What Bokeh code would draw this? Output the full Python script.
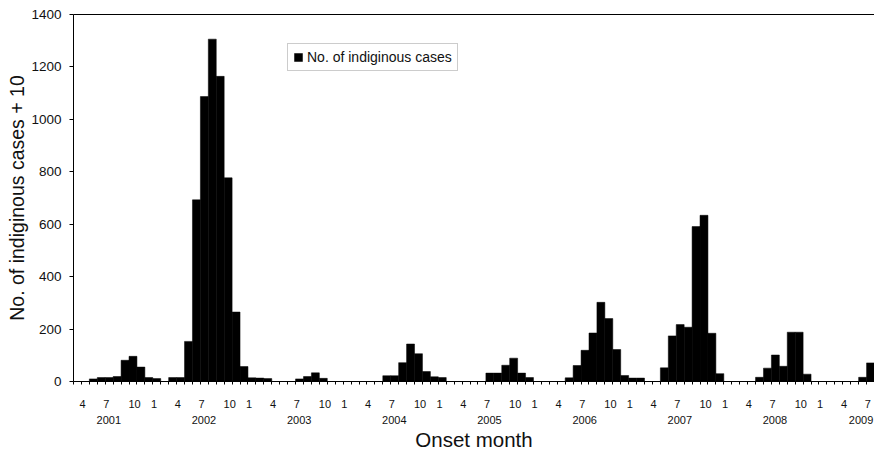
from bokeh.plotting import figure
from bokeh.models import (ColumnDataSource, FixedTicker, LinearAxis, Range1d,
                          Legend, LegendItem, Title)
from bokeh.embed import file_html
from bokeh.resources import INLINE

# ---- data: monthly counts (No. of indiginous cases + 10), March 2001 .. July 2009
start_year = 2001
start_month = 3
cases = [
    0, 0, 10, 15, 15, 19, 81, 96, 55, 15,            # 2001 Mar-Dec
    11, 0, 15, 15, 153, 693, 1087, 1306, 1164, 777, 265, 57,   # 2002
    14, 13, 11, 0, 0, 0, 10, 19, 33, 12, 0, 0,       # 2003
    0, 0, 0, 0, 0, 22, 22, 72, 143, 106, 38, 18,     # 2004
    15, 0, 0, 0, 0, 0, 32, 32, 62, 89, 32, 15,       # 2005
    0, 0, 0, 0, 14, 61, 119, 185, 302, 240, 122, 23, # 2006
    13, 13, 0, 0, 52, 174, 217, 207, 591, 634, 184, 30,  # 2007
    0, 0, 0, 0, 16, 51, 101, 58, 188, 188, 28, 0,    # 2008
    0, 0, 0, 0, 0, 16, 71,                           # 2009 Jan-Jul
]
labelled_months = [1, 4, 7, 10]
y_ticks = [0, 200, 400, 600, 800, 1000, 1200, 1400]
legend_label = "No. of indiginous cases"
y_title = "No. of indiginous cases + 10"
x_title = "Onset month"

FONT = "Liberation Sans"
TXT = "#111111"

n = len(cases)
years, months = [], []
for i in range(n):
    k = start_month - 1 + i
    years.append(start_year + k // 12)
    months.append(k % 12 + 1)

src = ColumnDataSource(dict(x=[i + 0.5 for i in range(n)], top=cases))

p = figure(width=874, height=457,
           x_range=Range1d(0, n), y_range=Range1d(0, 1400),
           output_backend="svg", toolbar_location=None,
           min_border_left=73, min_border_right=0, min_border_top=14,
           min_border_bottom=76)
p.outline_line_color = None
p.xgrid.visible = False
p.ygrid.visible = False
p.background_fill_color = "white"
p.border_fill_color = "white"

r = p.vbar(x="x", top="top", width=1.0, source=src,
           fill_color="black", line_color="black", line_width=0.5)

# y axis
ya = p.yaxis[0]
ya.ticker = FixedTicker(ticks=y_ticks)
ya.major_label_text_font = FONT
ya.major_label_text_font_size = "13.5px"
ya.major_label_text_color = TXT
ya.major_label_standoff = 8
ya.major_tick_out = 4
ya.major_tick_in = 0
ya.minor_tick_line_color = None
ya.axis_line_color = "black"

ytitle = Title(text=y_title, align="center", offset=9, standoff=2)
ytitle.text_font = FONT
ytitle.text_font_size = "19.5px"
ytitle.text_font_style = "normal"
ytitle.text_color = TXT
p.add_layout(ytitle, "left")

# x axis: month numbers
month_pos, month_over = [], {}
year_pos, year_over = [], {}
for i, (yr, m) in enumerate(zip(years, months)):
    if m in labelled_months:
        pos = i + (0.7 if m == 10 else 0.15)
        month_pos.append(pos)
        month_over[pos] = str(m)
    if m == 7:
        pos = min(i + 0.45, n - 1.7)
        year_pos.append(pos)
        year_over[pos] = str(yr)

xa = p.xaxis[0]
xa.ticker = FixedTicker(ticks=month_pos, minor_ticks=list(range(0, n + 1)))
xa.major_label_overrides = month_over
xa.major_tick_line_color = None
xa.major_tick_out = 0
xa.major_tick_in = 0
xa.minor_tick_out = 3
xa.minor_tick_in = 0
xa.minor_tick_line_color = "black"
xa.major_label_standoff = 15
xa.major_label_text_font = FONT
xa.major_label_text_font_size = "11px"
xa.major_label_text_color = TXT
xa.axis_line_color = "black"

# x axis: years + title
yax = LinearAxis(ticker=FixedTicker(ticks=year_pos), major_label_overrides=year_over)
yax.axis_line_color = None
yax.major_tick_line_color = None
yax.minor_tick_line_color = None
yax.major_tick_out = 0
yax.major_tick_in = 0
yax.minor_tick_out = 0
yax.major_label_standoff = 5
yax.major_label_text_font = FONT
yax.major_label_text_font_size = "11px"
yax.major_label_text_color = TXT
yax.axis_label = x_title
yax.axis_label_text_font = FONT
yax.axis_label_text_font_size = "20.5px"
yax.axis_label_text_font_style = "normal"
yax.axis_label_text_color = TXT
yax.axis_label_standoff = 1
p.add_layout(yax, "below")

# top border line
top = LinearAxis(ticker=FixedTicker(ticks=[]))
top.major_tick_line_color = None
top.minor_tick_line_color = None
top.major_label_text_font_size = "0px"
top.major_tick_out = 0
top.major_tick_in = 0
top.minor_tick_out = 0
top.major_label_standoff = 0
top.axis_line_color = "black"
p.add_layout(top, "above")

legend = Legend(items=[LegendItem(label=legend_label, renderers=[r])],
                location=(214, 310))
legend.label_text_font = FONT
legend.label_text_font_size = "14px"
legend.label_text_color = TXT
legend.glyph_width = 10
legend.glyph_height = 10
legend.label_height = 13
legend.label_standoff = 4
legend.padding = 5
legend.margin = 0
legend.spacing = 0
legend.border_line_color = "#9a9a9a"
legend.border_line_width = 1
legend.background_fill_color = "white"
legend.background_fill_alpha = 1
p.add_layout(legend)

open("out.html", "w").write(file_html(p, INLINE))
